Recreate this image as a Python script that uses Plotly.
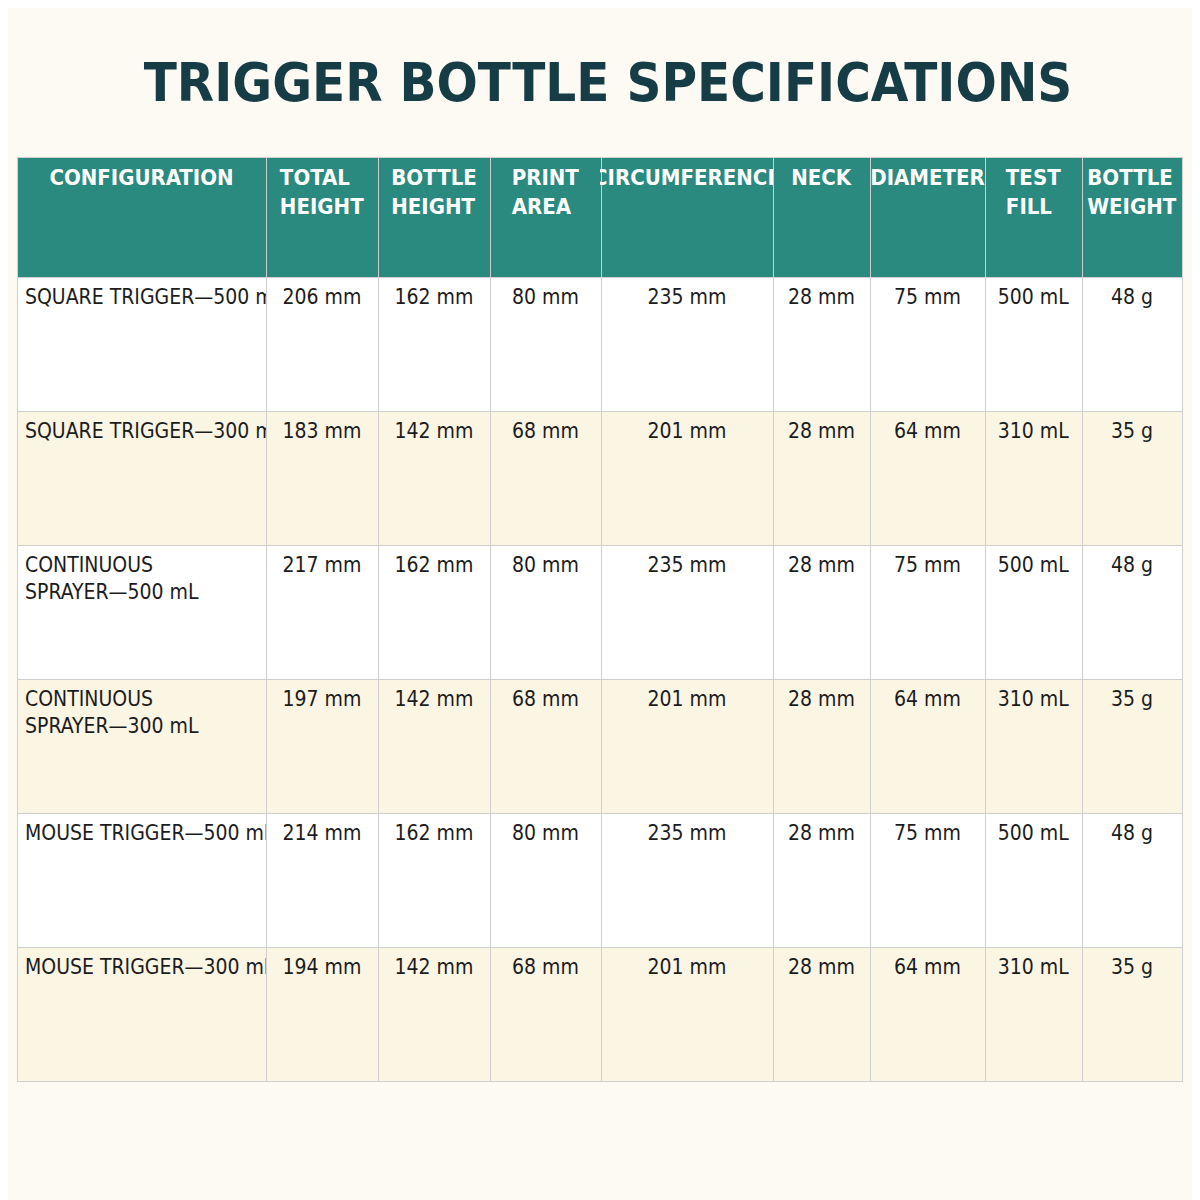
import plotly.graph_objects as go

headers = ["CONFIGURATION", "TOTAL<br>HEIGHT", "BOTTLE<br>HEIGHT", "PRINT<br>AREA", "CIRCUMFERENCE",
           "NECK", "DIAMETER", "TEST<br>FILL", "BOTTLE<br>WEIGHT"]
configuration = ["SQUARE TRIGGER—500 mL", "SQUARE TRIGGER—300 mL", "CONTINUOUS<br>SPRAYER—500 mL",
                 "CONTINUOUS<br>SPRAYER—300 mL", "MOUSE TRIGGER—500 mL", "MOUSE TRIGGER—300 mL"]
total_height = ["206 mm", "183 mm", "217 mm", "197 mm", "214 mm", "194 mm"]
bottle_height = ["162 mm", "142 mm", "162 mm", "142 mm", "162 mm", "142 mm"]
print_area = ["80 mm", "68 mm", "80 mm", "68 mm", "80 mm", "68 mm"]
circumference = ["235 mm", "201 mm", "235 mm", "201 mm", "235 mm", "201 mm"]
neck = ["28 mm"] * 6
diameter = ["75 mm", "64 mm", "75 mm", "64 mm", "75 mm", "64 mm"]
test_fill = ["500 mL", "310 mL", "500 mL", "310 mL", "500 mL", "310 mL"]
bottle_weight = ["48 g", "35 g", "48 g", "35 g", "48 g", "35 g"]

columns = [configuration, total_height, bottle_height, print_area, circumference,
           neck, diameter, test_fill, bottle_weight]
col_widths = [249, 112, 112, 111, 172, 97, 115, 97, 100]


def vpad(text, lines_total=3):
    # go.Table has no vertical centering, so push text down with blank lines
    n = text.count("<br>") + 1
    return "<br>" * max(lines_total - n, 0) + text


header_vals = [vpad("<b>%s</b>" % h, 3) if "<br>" in h else vpad("<b>%s</b>" % h, 3) for h in headers]
header_vals = ["<br>" + ("<b>%s</b>" % h if "<br>" in h else "<br><b>%s</b>" % h) for h in headers]
header_vals = [("<b>%s</b>" % h if "<br>" in h else "<br><b>%s</b>" % h) for h in headers]
cell_vals = [[("<br>" + v if "<br>" in v else "<br><br>" + v) for v in col] for col in columns]

font_fam = "Liberation Sans Narrow, DejaVu Sans Condensed, Roboto, sans-serif"
row_fill = ["#ffffff", "#fbf5e4"] * 3
line_col = "#cfcfcf"

fig = go.Figure(go.Table(
    domain=dict(x=[9 / 1200, 1174 / 1200], y=[0.03, 1 - 149 / 1200]),
    columnwidth=col_widths,
    header=dict(
        values=header_vals,
        fill_color="#2a8a80",
        line_color=line_col,
        font=dict(family=font_fam, size=22, color="white"),
        align="center",
        height=120,
    ),
    cells=dict(
        values=cell_vals,
        fill_color=[row_fill] * 9,
        line_color=line_col,
        font=dict(family=font_fam, size=21, color="#1c1c1c"),
        align=["left"] + ["center"] * 8,
        height=134,
    ),
))

fig.update_layout(
    width=1200, height=1200,
    margin=dict(l=0, r=0, t=0, b=0),
    paper_bgcolor="#fcfaf3",
    title=dict(text="<b>TRIGGER BOTTLE SPECIFICATIONS</b>", x=0.5, y=1 - 74 / 1200,
               xanchor="center", yanchor="middle",
               font=dict(family=font_fam, size=54, color="#163c45")),
)

fig.write_html("out.html")
